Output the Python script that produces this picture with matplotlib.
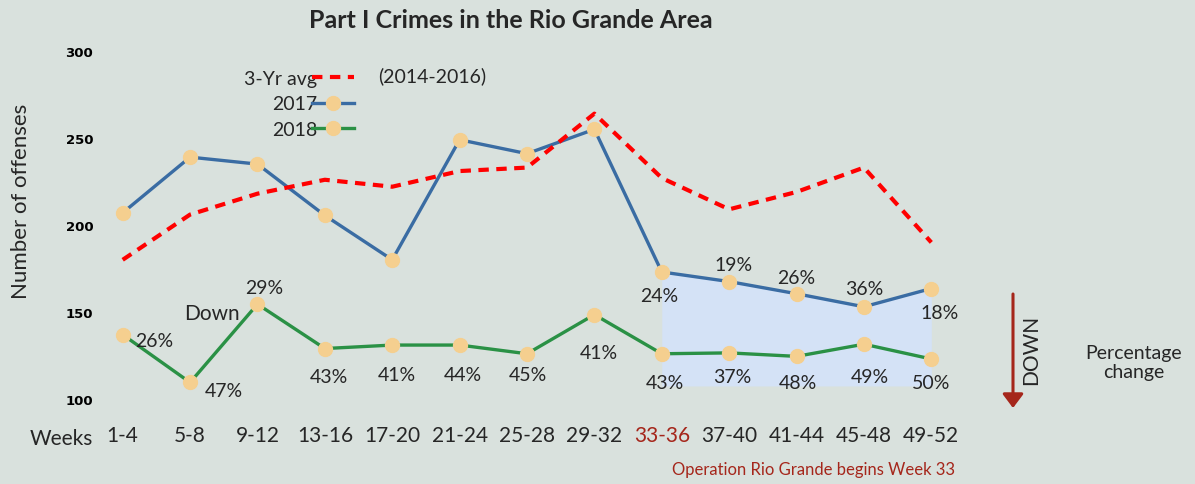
import matplotlib
matplotlib.use('Agg')
import matplotlib.pyplot as plt

#----------------------------------------
# data
weeks = ['1-4', '5-8', '9-12', '13-16', '17-20', '21-24', '25-28',
         '29-32', '33-36', '37-40', '41-44', '45-48', '49-52']
avg_3yr = [180, 206, 218, 226, 222, 231, 233, 264, 227, 209, 219, 233, 190]
y2017 = [207, 239, 235, 205.5, 180, 249, 241, 255, 173, 167.5, 160.5, 153, 163.5]
y2018 = [137, 109.5, 154.5, 129, 131, 131, 126, 148.5, 126, 126.5, 124.5, 131.5, 123]
pct_2017 = ['', '', '', '', '', '', '', '', '24%', '19%', '26%', '36%', '18%']
pct_2018 = ['26%', '47%', '29%', '43%', '41%', '44%', '45%', '41%',
            '43%', '37%', '48%', '49%', '50%']
shade_floor = 107.5
op_start = 8  # index of weeks 33-36

# label offsets (points)
off_2017 = [None] * 8 + [(-2, -17), (3, 12), (0, 12), (0, 13), (6, -17)]
off_2018 = [(23, -4), (24, -6), (5, 12), (3, -20), (3, -21), (2, -21), (1, -15),
            (3, -27), (2, -21), (2, -17), (1, -19), (4, -23), (0, -17)]

#----------------------------------------
bg = '#d9e1dd'
blue = '#3a6ca3'
green = '#2a9145'
red = '#ff0000'
dot = '#f5cf8f'
dark_red = '#a5261b'
txt = '#262626'

plt.rcParams['font.family'] = ['Lato', 'DejaVu Sans']

fig = plt.figure(figsize=(11.95, 4.85), dpi=100, facecolor=bg)
ax = fig.add_axes([89 / 1195, 85 / 485, 876 / 1195, 348 / 485])
ax.set_facecolor(bg)

x = list(range(len(weeks)))

ax.fill_between(x[op_start:], shade_floor, y2017[op_start:], color='#d4e2f6', lw=0, zorder=1)

l_avg, = ax.plot(x, avg_3yr, color=red, lw=3, dashes=(2.5, 1.8), zorder=4, clip_on=False)
l17, = ax.plot(x, y2017, '-o', color=blue, lw=2.4, mfc=dot, mec=dot, ms=10, zorder=3, clip_on=False)
l18, = ax.plot(x, y2018, '-o', color=green, lw=2.4, mfc=dot, mec=dot, ms=10, zorder=3, clip_on=False)

for i, (lab, off) in enumerate(zip(pct_2017, off_2017)):
    if lab:
        ax.annotate(lab, (x[i], y2017[i]), xytext=off, textcoords='offset points',
                    ha='center', va='center', fontsize=14, color=txt, zorder=6)
for i, (lab, off) in enumerate(zip(pct_2018, off_2018)):
    ax.annotate(lab, (x[i], y2018[i]), xytext=off, textcoords='offset points',
                ha='center', va='center', fontsize=14, color=txt, zorder=6)

ax.set_xlim(-0.5, 12.5)
ax.set_ylim(100, 300)
ax.set_yticks([100, 150, 200, 250, 300])
ax.set_xticks(x)
ax.set_xticklabels(weeks, fontsize=15, color=txt)
ax.get_xticklabels()[op_start].set_color(dark_red)
for t in ax.get_yticklabels():
    t.set_fontfamily('DejaVu Sans')
    t.set_fontweight('bold')
    t.set_fontsize(9.5)
ax.tick_params(axis='y', length=0, pad=-3)
ax.tick_params(axis='x', length=0, pad=19)
for s in ax.spines.values():
    s.set_visible(False)

ax.set_ylabel('Number of offenses', fontsize=16, color=txt)
ax.yaxis.set_label_coords(-0.066, 0.57)

leg = ax.legend([l_avg, l17, l18], ['3-Yr avg', '2017', '2018'], markerfirst=False,
                loc='upper right', bbox_to_anchor=(364 / 1195, 1 - 61 / 485),
                bbox_transform=fig.transFigure, frameon=False, fontsize=14,
                handlelength=2.2, handletextpad=-0.3, labelspacing=0.45, borderpad=0)
for t in leg.get_texts():
    t.set_color(txt)

fig.text(378 / 1195, 1 - 76 / 485, '(2014-2016)', fontsize=14, color=txt, va='center')
fig.text(511 / 1195, 1 - 21 / 485, 'Part I Crimes in the Rio Grande Area',
         fontsize=18, fontweight='bold', color=txt, ha='center', va='center')
fig.text(212 / 1195, 1 - 314 / 485, 'Down', fontsize=15, color=txt, ha='center', va='center')
fig.text(30 / 1195, 1 - 439 / 485, 'Weeks', fontsize=15, color=txt, va='center')
fig.text(814 / 1195, 1 - 470 / 485, 'Operation Rio Grande begins Week 33',
         fontsize=12, color=dark_red, ha='center', va='center')
fig.text(1134 / 1195, 1 - 363 / 485, 'Percentage\nchange', fontsize=14, color=txt,
         ha='center', va='center', linespacing=1.2)
fig.text(1031 / 1195, 1 - 350 / 485, 'DOWN', fontsize=15, color=txt, rotation=90,
         ha='center', va='center')
fig.add_artist(matplotlib.patches.FancyArrowPatch(
    (1013 / 1195, 1 - 295 / 485), (1013 / 1195, 1 - 409 / 485),
    transform=fig.transFigure, arrowstyle='-|>,head_length=0.6,head_width=0.45',
    mutation_scale=14, lw=2.2, color=dark_red, shrinkA=0, shrinkB=0))

plt.savefig('out.png', dpi=100, facecolor=bg)
